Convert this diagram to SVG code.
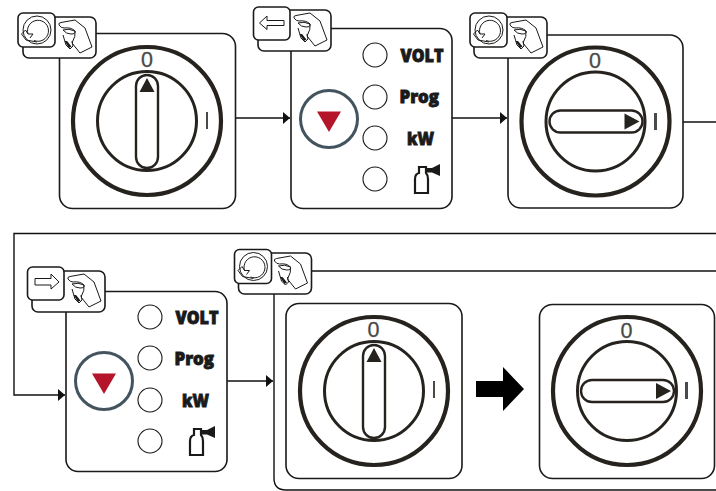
<svg xmlns="http://www.w3.org/2000/svg" width="716" height="491" viewBox="0 0 716 491">
<style>
.p{fill:#fff;stroke:#1a1a18;stroke-width:1.6}
.conn{fill:none;stroke:#111;stroke-width:1.4}
.o{fill:none;stroke:#26231f}
.t{font-family:"Open Sans","Liberation Sans",sans-serif;font-weight:800;font-size:18px;fill:#1a1a1a;stroke:#1a1a1a;stroke-width:.9}
.d{font-family:"Liberation Sans",sans-serif;font-size:21.5px;fill:#4a4a48;text-anchor:middle;stroke:#4a4a48;stroke-width:.3}
.thin{fill:none;stroke:#1a1a18;stroke-width:1}
</style>
<defs>
<g id="dialV">
<circle class="o" r="74" stroke-width="4.2"/>
<circle class="o" r="49.5" stroke-width="3"/>
<rect class="o" x="-11" y="-46" width="22" height="93" rx="11" stroke-width="2.4" style="fill:#fff"/>
<path d="M-7.500 -29H7.500L0 -43Z" fill="#26231f"/>
</g>
<g id="dialH">
<circle class="o" r="74" stroke-width="4.200"/>
<circle class="o" r="49.500" stroke-width="3"/>
<rect class="o" x="-46" y="-11" width="93" height="22" rx="11" stroke-width="2.400" style="fill:#fff"/>
<path d="M29 -8V8L44 0Z" fill="#26231f"/>
</g>
<g id="hand">
<rect class="p" width="73" height="41" rx="6"/>
<path class="thin" d="M36 8Q35 6 38 5.500L52 3L62 11L69 30L57 36L49 26Q53 19 52 14Q48 10 41 11Q38 11 36 8Z"/>
<path class="thin" d="M40 13Q46 11 52 14Q53 17 48 17Q43 17 40 13ZM40 18L43 28L47 32L50 29L49 24"/>
<path d="M41.500 24L46 31L48.500 29.500L44 24Z" fill="#1a1a18"/>
</g>
<g id="rotate">
<rect class="p" width="37" height="34" rx="5"/>
<circle class="thin" cx="19" cy="17" r="14"/>
<path class="thin" d="M10 21A10.500 10.500 0 1 1 16 27.500"/>
<path class="thin" d="M19 29L8 27L3.500 21L7.500 17L10 21L15 21L12 25"/>
</g>
<g id="btn">
<circle r="28.500" fill="#fff" stroke="#43545f" stroke-width="3"/>
<path d="M-12 -7.500H12L0 13Z" fill="#b5152b"/>
</g>
<g id="bottle">
<path d="M0 26V12Q0 7 4 6V0H11V6Q13 8 13 12V26Z" fill="#fff" stroke="#1a1a18" stroke-width="2.200"/>
<path d="M11 1H17L25 -3V9L17 5.500H11Z" fill="#1a1a18"/>
</g>
<g id="led"><circle r="12" fill="#fff" stroke="#1a1a18" stroke-width="1.100"/></g>
<marker id="ah" markerUnits="userSpaceOnUse" markerWidth="8" markerHeight="14" refX="7.500" refY="7" orient="auto"><path d="M0 0.500L7.500 7L0 13.500Z" fill="#111"/></marker>
</defs>

<g id="connectors">
<path class="conn" d="M236 118H290" marker-end="url(#ah)"/>
<path class="conn" d="M452 118H507" marker-end="url(#ah)"/>
<path class="conn" d="M683 122H716"/>
<path class="conn" d="M716 233.500H14V395H65" stroke-width="1.800" marker-end="url(#ah)"/>
<path class="conn" d="M227 381H273" marker-end="url(#ah)"/>
<path class="conn" d="M716 271H312M274 294V478Q274 490 286 490H716" stroke-width="1.600"/>
<path d="M476 381H503V367L524 389L503 411V397H476Z" fill="#000"/>
</g>

<g id="node1">
<rect class="p" x="59.500" y="33.500" width="176" height="175" rx="13"/>
<use href="#dialV" x="147" y="121"/>
<text class="d" x="147" y="67">0</text><rect x="206" y="112" width="2" height="17" fill="#4a4a48"/>
<use href="#hand" x="23" y="17"/><use href="#rotate" x="18" y="13"/>
</g>

<g id="node2">
<rect class="p" x="291" y="28.500" width="161" height="180" rx="12"/>
<use href="#btn" x="329" y="119"/>
<use href="#led" x="375" y="55"/><use href="#led" x="375" y="97"/><use href="#led" x="375" y="138"/><use href="#led" x="375" y="179"/>
<text class="t" x="400.500" y="62" textLength="43" lengthAdjust="spacingAndGlyphs">VOLT</text>
<text class="t" x="399.500" y="103" textLength="39.500" lengthAdjust="spacingAndGlyphs">Prog</text>
<text class="t" x="407" y="145" textLength="27" lengthAdjust="spacingAndGlyphs">kW</text>
<use href="#bottle" x="415" y="167"/>
<use href="#hand" x="258" y="10"/>
<rect class="p" x="253.500" y="7" width="36.500" height="33" rx="5"/>
<path class="thin" d="M284 20.500H267V16L259.500 23L267 29.500V25.500H284Z" stroke="#333"/>
</g>

<g id="node3">
<rect class="p" x="508" y="35" width="175" height="173" rx="13"/>
<use href="#dialH" x="595.500" y="121.500"/>
<text class="d" x="595" y="68">0</text><rect x="654" y="113" width="3" height="17" fill="#4a4a48"/>
<use href="#hand" x="474" y="17"/><use href="#rotate" x="470" y="13"/>
</g>

<g id="node4">
<rect class="p" x="66" y="291.500" width="161" height="180" rx="12"/>
<use href="#btn" x="104" y="381"/>
<use href="#led" x="150" y="317"/><use href="#led" x="150" y="358"/><use href="#led" x="150" y="400"/><use href="#led" x="150" y="441"/>
<text class="t" x="175.500" y="324" textLength="43" lengthAdjust="spacingAndGlyphs">VOLT</text>
<text class="t" x="174.500" y="365" textLength="39.500" lengthAdjust="spacingAndGlyphs">Prog</text>
<text class="t" x="182" y="407" textLength="27" lengthAdjust="spacingAndGlyphs">kW</text>
<use href="#bottle" x="190" y="429"/>
<use href="#hand" x="32" y="271"/>
<rect class="p" x="27.500" y="267" width="36.500" height="33" rx="5"/>
<path class="thin" d="M35 278.500H51V274L59 282L51 289V285H35Z" stroke="#333"/>
</g>

<g id="node5">
<use href="#hand" x="238.500" y="253"/><use href="#rotate" x="234.500" y="249.500"/>
</g>

<g id="node6">
<rect class="p" x="286" y="303.500" width="176" height="175" rx="13"/>
<use href="#dialV" x="374" y="391"/>
<text class="d" x="373.500" y="337">0</text><rect x="433" y="381" width="2" height="17" fill="#4a4a48"/>
</g>

<g id="node7">
<rect class="p" x="539.500" y="304.500" width="175" height="174" rx="13"/>
<use href="#dialH" x="627" y="391"/>
<text class="d" x="626.500" y="338">0</text><rect x="685" y="382" width="3" height="17" fill="#4a4a48"/>
</g>
</svg>
